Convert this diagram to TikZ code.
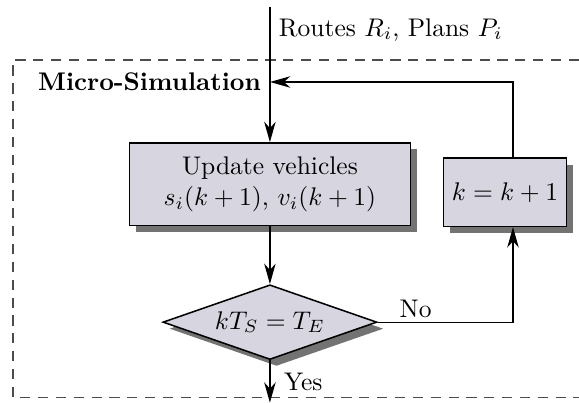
\documentclass[tikz,border=0pt]{standalone}
\usepackage{amsmath}
\usetikzlibrary{arrows.meta, positioning, shapes.geometric, shadows, calc}
\definecolor{boxfill}{RGB}{215,213,223}
\tikzset{
    block/.style={rectangle, draw, fill=boxfill, line width=0.6pt, align=center,
        drop shadow={shadow xshift=0.09cm, shadow yshift=-0.09cm, fill=black!55, opacity=1}},
    decide/.style={diamond, draw, fill=boxfill, line width=0.6pt, inner sep=0pt, aspect=3.2,
        minimum width=2.95cm, minimum height=1.03cm,
        drop shadow={shadow xshift=0.09cm, shadow yshift=-0.09cm, fill=black!55, opacity=1}},
    flow/.style={-{Stealth[length=8pt, width=4.5pt, inset=2.5pt]}, line width=0.5pt},
    frame/.style={dash pattern=on 4pt off 3pt, draw=black!70, line width=0.6pt},
}

\begin{document}
\begin{tikzpicture}
    \useasboundingbox (0,0) rectangle (7.98,-5.55);
    % dashed frame, cut off at the right
    \draw[frame] (7.98,-0.83) -| (0.18,-5.48) -- (7.98,-5.48);

    \coordinate (in) at (3.72,-0.09);
    \coordinate (out) at (3.72,-5.55);
    \coordinate (ret) at (7.07,-1.13);

    \node[block, minimum width=3.87cm, minimum height=1.14cm] (upd) at (3.72,-2.54)
        {Update vehicles\\$s_i(k+1)$, $v_i(k+1)$};
    \node[block, minimum width=1.68cm, minimum height=0.94cm] (inc) at (6.96,-2.65) {$k=k+1$};
    \node[decide] (cmp) at (3.72,-4.44) {$kT_S=T_E$};

    \node[anchor=west] (routes) at (3.72,-0.41) {Routes $R_i$, Plans $P_i$};
    \node[anchor=east, font=\bfseries] (title) at (upd.north |- ret) {Micro-Simulation};

    \draw[flow] (in) -- (upd);
    \draw[flow] (upd) -- (cmp);
    \draw[flow] (cmp) -- node[pos=0.5, right=2pt]{Yes} (out);
    \draw[flow] (cmp.east) -| node[pos=0.14, above, inner sep=1.5pt]{No} (inc.south -| ret);
    \draw[flow] (inc.north -| ret) |- (upd.north |- ret);
\end{tikzpicture}
\end{document}
